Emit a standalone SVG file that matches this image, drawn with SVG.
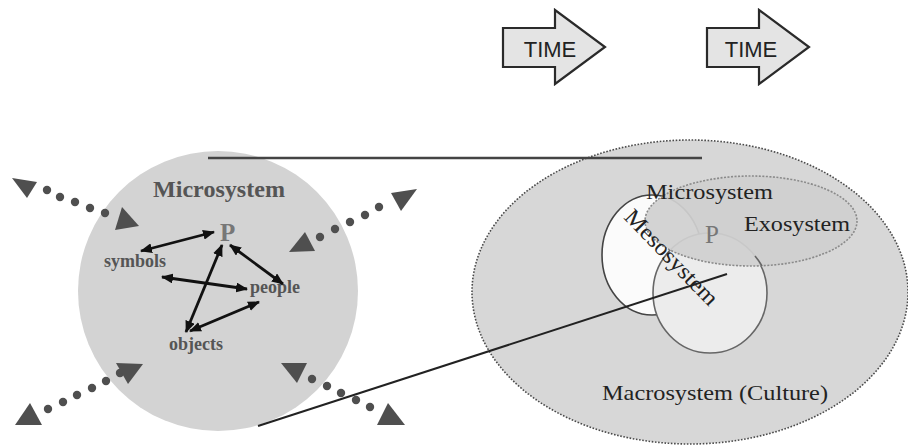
<svg xmlns="http://www.w3.org/2000/svg" width="908" height="447" viewBox="0 0 908 447">
<defs>
<style>
.serif{font-family:"Liberation Serif","Times New Roman",serif}
.lbl{font-family:"Liberation Serif",serif;font-weight:bold;font-size:18px;fill:#555}
.time{font-family:"Liberation Sans",Arial,sans-serif;font-size:22px;fill:#222;text-anchor:middle}
.tarrow{fill:#e4e4e4;stroke:#2a2a2a;stroke-width:2.2;stroke-linejoin:miter}
.dot{fill:#4f4f4f}
.tri{fill:#4f4f4f}
.rel{stroke:#111;stroke-width:2.8;fill:none;marker-start:url(#ah);marker-end:url(#ah)}
.rt{font-family:"Liberation Serif",serif;fill:#222}
</style>
<marker id="ah" markerUnits="userSpaceOnUse" markerWidth="12" markerHeight="10" refX="11" refY="5" orient="auto-start-reverse">
<path d="M0,0 L12,5 L0,10 z" fill="#111"/>
</marker>
</defs>
<rect width="908" height="447" fill="#ffffff"/>

<g id="time1">
<polygon class="tarrow" points="503,28 555,28 555,10 605,47 555,84 555,67 503,67"/>
<text class="time" x="550" y="57">TIME</text>
</g>
<g id="time2">
<polygon class="tarrow" points="707,28 759,28 759,10 809,47 759,84 759,67 707,67"/>
<text class="time" x="751" y="57">TIME</text>
</g>

<g id="microsystem-left">
<circle cx="218" cy="291" r="140" fill="#d3d3d3"/>
<text class="serif" x="153" y="197" font-size="23" font-weight="bold" fill="#555" textLength="132" lengthAdjust="spacingAndGlyphs">Microsystem</text>
</g>
<g id="node-P"><text class="serif" x="220" y="241" font-size="25" font-weight="bold" fill="#777">P</text></g>
<g id="node-symbols"><text class="lbl" x="104" y="267">symbols</text></g>
<g id="node-people"><text class="lbl" x="250" y="293">people</text></g>
<g id="node-objects"><text class="lbl" x="169" y="350">objects</text></g>

<g id="macrosystem">
<ellipse cx="690" cy="292" rx="218" ry="152" fill="#d7d7d7" stroke="#4a4a4a" stroke-width="1.6" stroke-dasharray="1.6 1.6"/>
<text class="rt" x="602" y="400" font-size="21" textLength="226" lengthAdjust="spacingAndGlyphs">Macrosystem (Culture)</text>
</g>
<g id="microsystem-right">
<ellipse cx="652" cy="255" rx="50" ry="60" fill="#fbfbfb" stroke="#444" stroke-width="1.6"/>
</g>
<g id="mesosystem">
<ellipse cx="710" cy="293" rx="57" ry="60" fill="#ececec" stroke="#666" stroke-width="1.6"/>
</g>
<g id="exosystem">
<ellipse cx="751" cy="221" rx="106" ry="45" fill="#d0d0d0" fill-opacity="0.93" stroke="#8a8a8a" stroke-width="1.6" stroke-dasharray="2 1.5"/>
<path d="M755,256 A57,60 0 0 1 762,266" fill="none" stroke="#666" stroke-width="1.6"/>
<text class="rt" x="744" y="231" font-size="22" textLength="106" lengthAdjust="spacingAndGlyphs">Exosystem</text>
</g>
<g id="labels-right">
<text class="rt" x="646" y="199" font-size="22" textLength="127" lengthAdjust="spacingAndGlyphs">Microsystem</text>
<text class="serif" x="705" y="243" font-size="25" fill="#777">P</text>
<text class="rt" transform="translate(623,218) rotate(46)" x="0" y="0" font-size="23" fill="#111" textLength="124" lengthAdjust="spacingAndGlyphs">Mesosystem</text>
</g>

<g id="connectors">
<line class="rel" x1="141" y1="251" x2="214" y2="232"/>
<line class="rel" x1="162" y1="277" x2="247" y2="289"/>
<line class="rel" x1="230" y1="245" x2="283" y2="284"/>
<line class="rel" x1="222" y1="245" x2="186" y2="332"/>
<line class="rel" x1="190" y1="331" x2="259" y2="302"/>
<line x1="208" y1="158" x2="702" y2="158" stroke="#444" stroke-width="2.6"/>
<line x1="258" y1="426" x2="727" y2="274" stroke="#222" stroke-width="2"/>
</g>

<g id="influence-arrows">
<polygon class="tri" points="12,178 37,182 27,198"/>
<circle class="dot" cx="47" cy="190" r="4.2"/><circle class="dot" cx="60" cy="197" r="4.2"/><circle class="dot" cx="75" cy="202" r="4.2"/><circle class="dot" cx="90" cy="208" r="4.2"/><circle class="dot" cx="105" cy="213" r="4.2"/>
<polygon class="tri" points="122,207 139,226 115,230"/>

<polygon class="tri" points="305,232 315,251 289,252"/>
<circle class="dot" cx="320" cy="237" r="4.2"/><circle class="dot" cx="335" cy="229" r="4.2"/><circle class="dot" cx="350" cy="222" r="4.2"/><circle class="dot" cx="365" cy="215" r="4.2"/><circle class="dot" cx="379" cy="207" r="4.2"/>
<polygon class="tri" points="391,193 417,189 401,211"/>

<polygon class="tri" points="30,403 42,425 15,425"/>
<circle class="dot" cx="48" cy="409" r="4.2"/><circle class="dot" cx="63" cy="402" r="4.2"/><circle class="dot" cx="77" cy="395" r="4.2"/><circle class="dot" cx="92" cy="388" r="4.2"/><circle class="dot" cx="106" cy="381" r="4.2"/><circle class="dot" cx="120" cy="373" r="4.2"/>
<polygon class="tri" points="116,363 143,364 128,384"/>

<polygon class="tri" points="281,363 307,363 297,383"/>
<circle class="dot" cx="312" cy="379" r="4.2"/><circle class="dot" cx="327" cy="386" r="4.2"/><circle class="dot" cx="341" cy="393" r="4.2"/><circle class="dot" cx="356" cy="400" r="4.2"/><circle class="dot" cx="370" cy="407" r="4.2"/>
<polygon class="tri" points="388,403 405,425 377,425"/>
</g>
</svg>
